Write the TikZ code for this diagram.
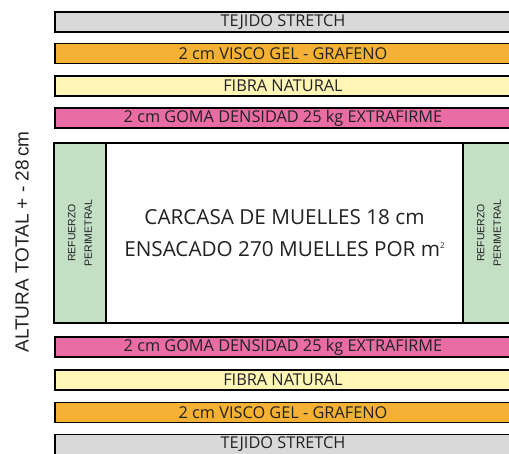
\documentclass[tikz,border=0pt]{standalone}
\usepackage{fontspec}
\setmainfont{Open Sans}
\newfontfamily\arialfont{Liberation Sans}

\definecolor{tejidocol}{HTML}{D9D9DA}
\definecolor{viscocol}{HTML}{F5B133}
\definecolor{fibracol}{HTML}{FFF5B5}
\definecolor{gomacol}{HTML}{EA6CA5}
\definecolor{refuerzocol}{HTML}{C3DFC4}
\definecolor{textcol}{HTML}{222222}

\newcommand{\cuadrado}{\raisebox{0.75ex}{\fontsize{8}{8}\selectfont 2}}

\tikzset{
  capa/.style={draw=black, line width=1.5pt, minimum width=456pt, minimum height=20pt,
    inner sep=0pt, text=textcol, font=\fontsize{16.3}{17}\selectfont},
  refuerzo/.style={draw=black, line width=1.5pt, fill=refuerzocol, minimum width=52pt,
    minimum height=180pt, inner sep=0pt},
  reftext/.style={rotate=90, align=center, text=textcol, font=\arialfont\fontsize{10.5}{16.5}\selectfont}
}

\begin{document}
\begin{tikzpicture}[x=1pt,y=-1pt]
        % \draw[help lines,step=50] (0,0) grid (509,453);
        \useasboundingbox (0,0) rectangle (509,453);
        \clip (0,0) rectangle (509,453);

        % top layers
        \node[capa, fill=tejidocol] (tejidoA) at (283,22) {TEJIDO STRETCH};
        \node[capa, fill=viscocol] (viscoA) at (283,53.5) {2 cm VISCO GEL - GRAFENO};
        \node[capa, fill=fibracol] (fibraA) at (283,86) {FIBRA NATURAL};
        \node[capa, fill=gomacol] (gomaA) at (283,118) {2 cm GOMA DENSIDAD 25 kg EXTRAFIRME};

        % spring core
        \node[draw=black, line width=1.5pt, fill=white, minimum width=357pt, minimum height=180pt,
          inner sep=0pt, align=center, text=textcol, font=\fontsize{20.7}{32}\selectfont]
          (carcasa) at (284.5,233) {CARCASA DE MUELLES 18 cm\\ENSACADO 270 MUELLES POR m\cuadrado};
        \node[refuerzo] (refuerzoL) at (80,233) {};
        \node[refuerzo] (refuerzoR) at (489,233) {};
        \node[reftext] (reftextL) at (refuerzoL) {REFUERZO\\PERIMETRAL};
        \node[reftext] (reftextR) at (refuerzoR) {REFUERZO\\PERIMETRAL};

        % bottom layers
        \node[capa, fill=gomacol] (gomaB) at (283,347) {2 cm GOMA DENSIDAD 25 kg EXTRAFIRME};
        \node[capa, fill=fibracol] (fibraB) at (283,380) {FIBRA NATURAL};
        \node[capa, fill=viscocol] (viscoB) at (283,412.5) {2 cm VISCO GEL - GRAFENO};
        \node[capa, fill=tejidocol] (tejidoB) at (283,444.5) {TEJIDO STRETCH};

        % total height
        \node[rotate=90, text=textcol, font=\arialfont\fontsize{19}{22}\selectfont] (altura) at (22,242) {ALTURA TOTAL + - 28\,cm};

      \end{tikzpicture}
\end{document}
